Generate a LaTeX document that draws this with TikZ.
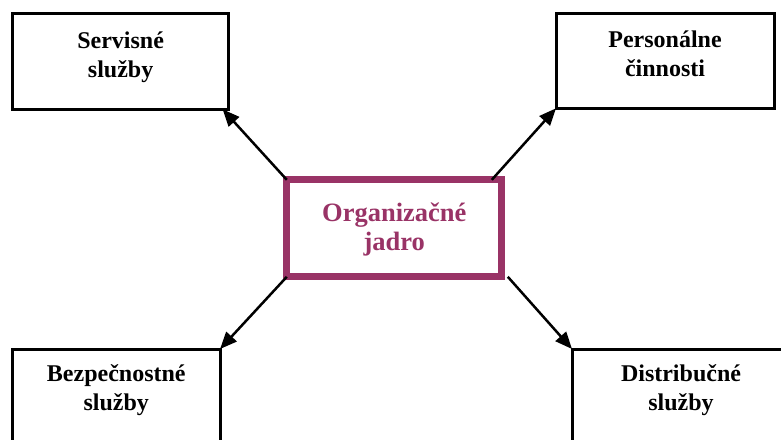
\documentclass[tikz,border=0pt]{standalone}
\usepackage{fontspec}
\setmainfont{Liberation Serif}
\usetikzlibrary{arrows.meta}
\definecolor{jadrocol}{RGB}{153,51,102}
\tikzstyle{box} = [draw, line width=3pt, outer sep=0pt, inner sep=0pt]
\tikzstyle{corebox} = [draw=jadrocol, line width=7pt, outer sep=0pt, inner sep=0pt]
\tikzstyle{lbl} = [align=center, inner sep=0pt, anchor=base, font=\bfseries\fontsize{24}{29}\selectfont]
\tikzstyle{es} = [line width=2.5pt, -{Triangle[length=17pt,width=14pt]}]

\begin{document}
\begin{tikzpicture}[yscale=-1]
			\clip (0pt,0pt) rectangle (781pt,439pt);
			\node[box, minimum width=216pt, minimum height=96pt] (serv) at (120.6pt,61.3pt) {};
			\node[lbl] (servTxt) at (120.6pt,77pt) {Servisné\\služby};
			\node[box, minimum width=218pt, minimum height=95pt] (pers) at (665pt,60.8pt) {};
			\node[lbl] (persTxt) at (665pt,76pt) {Personálne\\činnosti};
			\node[corebox, minimum width=215pt, minimum height=97pt] (core) at (394.3pt,228.3pt) {};
			\node[lbl, text=jadrocol, font=\bfseries\fontsize{26.5}{29}\selectfont] (coreTxt) at (394.3pt,250pt) {Organizačné\\jadro};
			\node[box, minimum width=207.5pt, minimum height=111pt] (bezp) at (116.3pt,404.5pt) {};
			\node[lbl] (bezpTxt) at (116.3pt,410pt) {Bezpečnostné\\služby};
			\node[box, minimum width=218pt, minimum height=111pt] (dist) at (681pt,404.5pt) {};
			\node[lbl] (distTxt) at (681pt,410pt) {Distribučné\\služby};
			\draw[es] (core.north west) -- ([xshift=-6pt]serv.south east);
			\draw[es] ([xshift=-10pt]core.north east) -- (pers.south west);
			\draw[es] (core.south west) -- (bezp.north east);
			\draw[es] ([xshift=6pt]core.south east) -- (dist.north west);
		\end{tikzpicture}
\end{document}
